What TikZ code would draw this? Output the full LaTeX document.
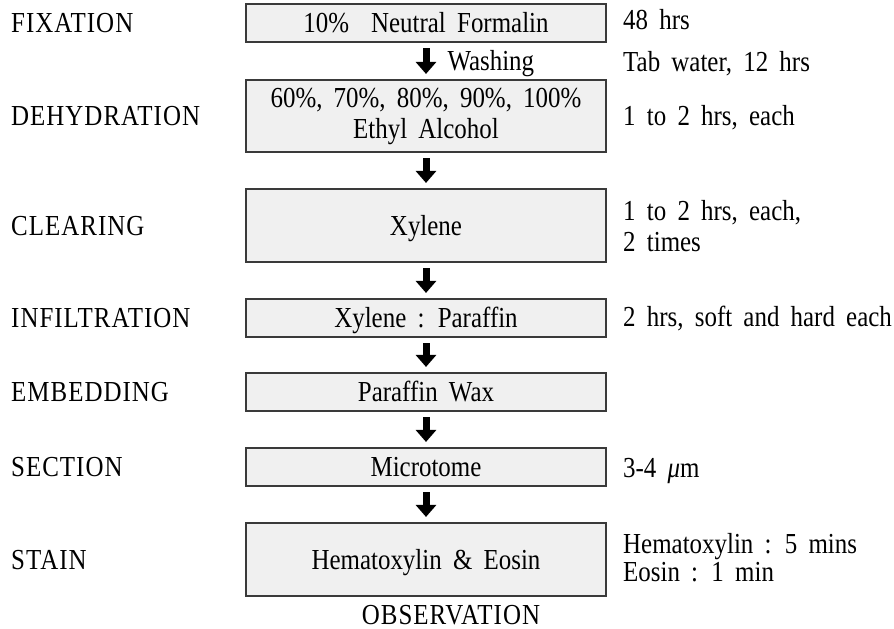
\documentclass[tikz,border=0pt]{standalone}
\usepackage{fontspec}
\setmainfont{Liberation Serif}[FakeStretch=0.86,WordSpace=1.8]
\newfontfamily\capsfont{Liberation Serif}[FakeStretch=0.86,LetterSpace=3.5]
\usetikzlibrary{arrows.meta}
\definecolor{boxfill}{HTML}{F0F0F0}
\definecolor{boxline}{HTML}{3A3A3A}
\begin{document}
\begin{tikzpicture}[x=1pt,y=-1pt,
  every node/.style={font=\fontsize{29}{31}\selectfont, inner sep=0pt},
  box/.style={draw=boxline, line width=1.1pt, fill=boxfill, minimum width=360pt, align=center},
  one/.style={text height=19pt, text depth=0pt},
  lbl/.style={anchor=west, one},
  caps/.style={font=\fontsize{29}{31}\capsfont},
  flow/.style={line width=7pt, -{Triangle[width=20pt,length=12pt]}, shorten <=5.5pt, shorten >=5.5pt}
]
\useasboundingbox (0,0) rectangle (894,629);

% process boxes
\node[box, one, minimum height=38pt] (b1) at (426,23) {10\%\hspace{22pt}Neutral Formalin};
\node[box, minimum height=72pt] (b2) at (426,116) {60\%, 70\%, 80\%, 90\%, 100\%\\Ethyl Alcohol};
\node[box, one, minimum height=73pt] (b3) at (426,225.5) {Xylene};
\node[box, one, minimum height=38pt] (b4) at (426,318) {Xylene : Paraffin};
\node[box, one, minimum height=38pt] (b5) at (426,392) {Paraffin Wax};
\node[box, one, minimum height=38pt] (b6) at (426,467) {Microtome};
\node[box, one, minimum height=73pt] (b7) at (426,559.5) {Hematoxylin \& Eosin};

% arrows
\draw[flow] (b1) -- (b2) node[pos=0.5, anchor=west, xshift=18pt, one] (wash) {Washing};
\draw[flow] (b2) -- (b3);
\draw[flow] (b3) -- (b4);
\draw[flow] (b4) -- (b5);
\draw[flow] (b5) -- (b6);
\draw[flow] (b6) -- (b7);

% step labels
\coordinate (lx) at (11,0);
\node[lbl, caps] (l1) at (b1 -| lx) {FIXATION};
\node[lbl, caps] (l2) at (b2 -| lx) {DEHYDRATION};
\node[lbl, caps] (l3) at (b3 -| lx) {CLEARING};
\node[lbl, caps] (l4) at (b4 -| lx) {INFILTRATION};
\node[lbl, caps] (l5) at (b5 -| lx) {EMBEDDING};
\node[lbl, caps] (l6) at (b6 -| lx) {SECTION};
\node[lbl, caps] (l7) at (b7 -| lx) {STAIN};

% annotations
\node[lbl] (r1) at (623,20) {48 hrs};
\node[lbl] (r2) at (623,62) {Tab water, 12 hrs};
\node[lbl] (r3) at (623,116) {1 to 2 hrs, each};
\node[lbl] (r4a) at (623,211) {1 to 2 hrs, each,};
\node[lbl] (r4b) at (623,242) {2 times};
\node[lbl] (r5) at (623,317) {2 hrs, soft and hard each};
\node[lbl] (r6) at (623,468) {3-4 {\itshape μ}m};
\node[lbl] (r7a) at (623,544) {Hematoxylin : 5 mins};
\node[lbl] (r7b) at (623,572) {Eosin : 1 min};

\node[one, caps] (obs) at (451,615) {OBSERVATION};
\end{tikzpicture}
\end{document}
